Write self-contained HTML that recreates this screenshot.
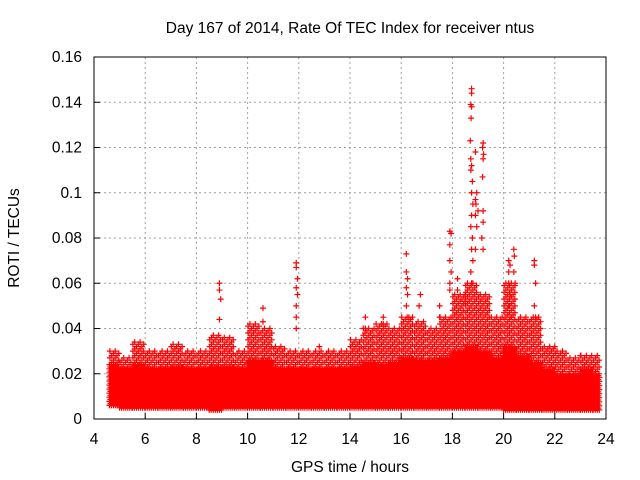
<!DOCTYPE html>
<html><head><meta charset="utf-8"><style>
body{margin:0;background:#fff}
svg{display:block;font-family:"Liberation Sans",sans-serif}
</style></head><body>
<svg id="chart" width="640" height="480" xmlns="http://www.w3.org/2000/svg">
<text x="350" y="33" font-size="15.5" text-anchor="middle">Day 167 of 2014, Rate Of TEC Index for receiver ntus</text>
<text x="350" y="472" font-size="15.5" text-anchor="middle">GPS time / hours</text>
<text x="19" y="238" font-size="15.5" text-anchor="middle" transform="rotate(-90 19 238)">ROTI / TECUs</text>
<g id="grid"></g>
<g id="marks"></g>
<rect x="94" y="57" width="512" height="362" fill="none" stroke="#000" stroke-width="1"/>
<g id="axes"></g>
</svg>
<script>
const xTicks=[4,6,8,10,12,14,16,18,20,22,24];
const yTicks=[0,0.02,0.04,0.06,0.08,0.1,0.12,0.14,0.16];
const yTickLabels=["0","0.02","0.04","0.06","0.08","0.1","0.12","0.14","0.16"];
// dense band: bin start times, solid-band top, scattered top and bottom values
const bandTimes=[4.6,5.0,5.5,6.0,6.5,7.0,7.5,8.0,8.5,9.0,9.5,10.0,10.5,11.0,11.5,12.0,12.5,13.0,13.5,14.0,14.5,15.0,15.5,16.0,16.5,17.0,17.5,18.0,18.5,19.0,19.5,20.0,20.5,21.0,21.5,22.0,22.5,23.0,23.5];
const solidTop=[0.024,0.022,0.024,0.022,0.022,0.023,0.022,0.022,0.023,0.023,0.022,0.026,0.026,0.022,0.022,0.022,0.022,0.022,0.022,0.023,0.025,0.024,0.025,0.027,0.026,0.026,0.027,0.03,0.032,0.03,0.027,0.032,0.028,0.025,0.022,0.02,0.02,0.022,0.02];
const scatterTop=[0.03,0.027,0.034,0.03,0.03,0.033,0.03,0.03,0.037,0.036,0.03,0.042,0.04,0.032,0.03,0.03,0.03,0.03,0.03,0.035,0.04,0.042,0.04,0.045,0.043,0.04,0.045,0.055,0.06,0.055,0.045,0.06,0.045,0.045,0.032,0.03,0.027,0.028,0.028];
const bandBottom=[0.006,0.005,0.005,0.005,0.005,0.005,0.005,0.005,0.004,0.005,0.005,0.005,0.005,0.005,0.005,0.005,0.005,0.005,0.005,0.005,0.005,0.005,0.005,0.005,0.005,0.005,0.005,0.005,0.005,0.005,0.005,0.004,0.004,0.004,0.004,0.004,0.004,0.004,0.004];
const bandEnd=23.75;
// isolated spike points
const spikeTimes=[8.9,8.9,8.95,8.9,10.6,10.6,11.9,11.9,11.95,11.9,11.95,11.9,11.9,11.9,12.8,14.6,14.6,15.3,15.3,16.2,16.2,16.25,16.2,16.25,16.2,16.3,16.7,16.75,17.5,17.5,17.9,17.95,17.9,17.9,17.95,17.9,17.9,18.2,18.2,18.5,18.5,18.75,18.75,18.72,18.75,18.73,18.7,18.72,18.75,18.72,18.78,18.75,18.8,18.75,18.72,18.78,18.75,18.8,18.72,18.75,18.9,18.95,18.9,18.92,18.9,18.95,18.9,19.2,19.18,19.2,19.22,19.18,19.2,19.2,19.15,19.2,19.0,20.2,20.25,20.2,20.2,20.25,20.2,20.3,20.4,20.42,20.4,20.45,21.2,21.2,21.25,21.2,21.25,22.0,23.0];
const spikeValues=[0.06,0.057,0.053,0.044,0.049,0.043,0.069,0.067,0.062,0.058,0.055,0.05,0.045,0.04,0.032,0.045,0.04,0.045,0.042,0.073,0.065,0.062,0.058,0.055,0.05,0.045,0.05,0.055,0.05,0.045,0.083,0.082,0.077,0.07,0.065,0.06,0.057,0.062,0.057,0.055,0.052,0.146,0.144,0.139,0.138,0.133,0.123,0.115,0.112,0.11,0.105,0.1,0.095,0.09,0.085,0.08,0.075,0.07,0.065,0.06,0.118,0.1,0.097,0.095,0.09,0.085,0.075,0.122,0.12,0.115,0.117,0.107,0.092,0.087,0.08,0.075,0.092,0.07,0.068,0.065,0.06,0.055,0.05,0.045,0.075,0.072,0.065,0.06,0.07,0.068,0.06,0.05,0.045,0.032,0.028];

const NS="http://www.w3.org/2000/svg";
const X=t=>94+(t-4)*512/20;
const Y=v=>419-v*362/0.16;
const grid=document.getElementById('grid'),axes=document.getElementById('axes'),marks=document.getElementById('marks');
function mk(tag,attrs,parent){const e=document.createElementNS(NS,tag);for(const k in attrs)e.setAttribute(k,attrs[k]);parent.appendChild(e);return e;}
xTicks.forEach(t=>{
  if(t>4&&t<24){const g=mk('line',{x1:X(t),x2:X(t),y1:57,y2:419,stroke:'#a0a0a0','stroke-dasharray':'2,3'},grid);
  
  }
  const tk=mk('line',{x1:X(t),x2:X(t),y1:419,y2:413,stroke:'#000'},axes);
  
  
  const tx=mk('text',{x:X(t),y:444,'font-size':15.5,'text-anchor':'middle'},axes);tx.textContent=t;
  
  
});
yTicks.forEach((v,i)=>{
  if(v>0&&v<0.16){const g=mk('line',{x1:94,x2:606,y1:Y(v),y2:Y(v),stroke:'#a0a0a0','stroke-dasharray':'2,3'},grid);
  
  }
  const tk=mk('line',{x1:94,x2:100,y1:Y(v),y2:Y(v),stroke:'#000'},axes);
  
  
  const tx=mk('text',{x:82,y:Y(v)+5,'font-size':15.5,'text-anchor':'end'},axes);tx.textContent=yTickLabels[i];
  
  
});
let d='',ds='';
const plus=(t,v,s)=>{const x=X(t),y=Y(v);const seg=`M${(x-3).toFixed(1)} ${y.toFixed(1)}h6M${x.toFixed(1)} ${(y-3).toFixed(1)}v6`;if(s)ds+=seg;else d+=seg;};
bandTimes.forEach((t0,i)=>{
  const t1=i<bandTimes.length-1?bandTimes[i+1]:bandEnd;
  let k=0;
  for(let t=t0;t<t1-1e-6;t+=0.04,k++){
    for(let v=bandBottom[i]+(k%2)*0.0008;v<=solidTop[i]+1e-9;v+=0.0018){plus(t,v,false);}
  }
  k=0;
  for(let t=t0+0.02;t<t1-1e-6;t+=0.07,k++){
    for(let v=solidTop[i]+(k%3)*0.001;v<=scatterTop[i]+1e-9;v+=0.003){plus(t,v,true);}
  }
});
const band=mk('path',{d:d,stroke:'#ff0000','stroke-width':1.2,fill:'none'},marks);


const sc=mk('path',{d:ds,stroke:'#ff0000','stroke-width':1.2,fill:'none'},marks);


spikeTimes.forEach((t,i)=>{
  const x=X(t),y=Y(spikeValues[i]);
  const p=mk('path',{d:`M${x-3} ${y}h6M${x} ${y-3}v6`,stroke:'#ff0000','stroke-width':1.2,fill:'none'},marks);
  
  
});
</script>
</body></html>
